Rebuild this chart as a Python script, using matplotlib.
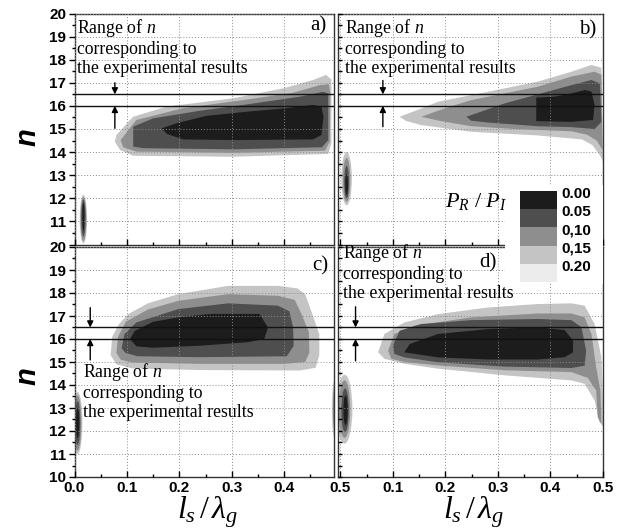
import matplotlib
matplotlib.use("Agg")
import matplotlib.pyplot as plt
from matplotlib.patches import Ellipse
from matplotlib.ticker import MultipleLocator, FixedLocator

plt.rcParams['mathtext.fontset'] = 'custom'
plt.rcParams['mathtext.rm'] = 'Liberation Serif'
plt.rcParams['mathtext.it'] = 'Liberation Serif:italic'

# ── legend levels ────────────────────────────────────────────────────────────
level_labels = ['0.00', '0.05', '0,10', '0,15', '0.20']
level_colors = ['#1c1c1c', '#4e4e4e', '#8e8e8e', '#c4c4c4', '#ececec']

# ── contour outlines (x = l_s/lambda_g, n), outer (0.15) -> inner (0.00) ────
a_light_x = [0.077, 0.080, 0.112, 0.176, 0.303, 0.398, 0.455, 0.480, 0.490, 0.490, 0.484, 0.303, 0.112, 0.087]
a_light_n = [14.45, 14.74, 15.53, 15.97, 16.33, 16.76, 17.12, 17.34, 17.15, 14.38, 13.92, 13.80, 13.84, 14.09]
a_mid_x = [0.088, 0.118, 0.207, 0.334, 0.417, 0.468, 0.485, 0.488, 0.487, 0.478, 0.303, 0.118, 0.093]
a_mid_n = [14.52, 15.39, 15.90, 16.29, 16.57, 16.90, 16.94, 16.54, 14.45, 14.06, 13.97, 14.02, 14.21]
a_dark_x = [0.112, 0.150, 0.239, 0.334, 0.430, 0.474, 0.484, 0.484, 0.472, 0.303, 0.131, 0.112]
a_dark_n = [15.10, 15.46, 15.79, 16.08, 16.40, 16.61, 16.54, 14.52, 14.21, 14.12, 14.17, 14.24]
a_black_x = [0.166, 0.195, 0.252, 0.334, 0.404, 0.455, 0.471, 0.475, 0.471, 0.455, 0.303, 0.207, 0.176]
a_black_n = [15.03, 15.25, 15.57, 15.76, 15.90, 16.04, 15.97, 15.53, 14.74, 14.55, 14.52, 14.55, 14.79]

b_light_x = [0.113, 0.150, 0.186, 0.281, 0.376, 0.440, 0.478, 0.497, 0.500, 0.493, 0.480, 0.460, 0.376, 0.249, 0.154, 0.125]
b_light_n = [15.53, 15.85, 16.18, 16.61, 17.05, 17.48, 17.77, 17.65, 13.60, 13.90, 14.30, 14.55, 14.72, 14.88, 15.17, 15.35]
b_mid_x = [0.154, 0.200, 0.249, 0.376, 0.440, 0.484, 0.497, 0.499, 0.488, 0.470, 0.440, 0.330, 0.249, 0.190]
b_mid_n = [15.53, 15.90, 16.25, 16.83, 17.27, 17.48, 17.35, 14.10, 14.50, 14.75, 14.90, 15.00, 15.12, 15.35]
b_dark_x = [0.240, 0.313, 0.376, 0.440, 0.478, 0.494, 0.497, 0.484, 0.440, 0.376, 0.281, 0.249]
b_dark_n = [15.53, 16.11, 16.50, 16.90, 17.12, 16.97, 15.31, 15.00, 15.08, 15.12, 15.28, 15.36]
b_black_x = [0.373, 0.408, 0.440, 0.466, 0.478, 0.484, 0.481, 0.440, 0.373]
b_black_n = [16.36, 16.40, 16.54, 16.69, 16.62, 16.04, 15.39, 15.31, 15.34]

c_light_x = [0.069, 0.072, 0.085, 0.103, 0.140, 0.198, 0.293, 0.388, 0.425, 0.440, 0.455, 0.467, 0.467, 0.460, 0.430, 0.240, 0.110, 0.080]
c_light_n = [15.30, 16.10, 16.65, 17.09, 17.55, 17.95, 18.31, 18.31, 18.20, 17.95, 17.00, 16.20, 15.30, 14.75, 14.63, 14.65, 14.72, 14.90]
c_mid_x = [0.080, 0.083, 0.098, 0.140, 0.198, 0.293, 0.388, 0.420, 0.433, 0.447, 0.448, 0.440, 0.400, 0.240, 0.110, 0.088]
c_mid_n = [15.40, 16.10, 16.75, 17.28, 17.66, 17.95, 17.88, 17.70, 17.09, 16.30, 15.40, 15.00, 14.92, 14.92, 14.98, 15.10]
c_dark_x = [0.090, 0.095, 0.118, 0.198, 0.293, 0.388, 0.410, 0.417, 0.418, 0.405, 0.240, 0.120, 0.097]
c_dark_n = [15.60, 16.20, 16.72, 17.30, 17.55, 17.45, 17.20, 16.50, 15.70, 15.25, 15.21, 15.25, 15.40]
c_black_x = [0.106, 0.115, 0.150, 0.198, 0.260, 0.353, 0.369, 0.362, 0.330, 0.240, 0.150, 0.118]
c_black_n = [16.00, 16.35, 16.75, 16.94, 17.09, 17.09, 16.50, 16.00, 15.86, 15.71, 15.62, 15.68]

d_light_x = [0.072, 0.084, 0.122, 0.186, 0.281, 0.376, 0.440, 0.465, 0.484, 0.497, 0.500, 0.500, 0.493, 0.484, 0.465, 0.440, 0.313, 0.186, 0.122, 0.084]
d_light_n = [15.42, 16.22, 16.72, 17.08, 17.37, 17.52, 17.55, 17.45, 16.65, 15.21, 13.33, 12.20, 12.40, 13.33, 14.05, 14.20, 14.42, 14.71, 14.92, 15.14]
d_mid_x = [0.091, 0.103, 0.141, 0.249, 0.376, 0.440, 0.465, 0.478, 0.487, 0.495, 0.497, 0.490, 0.487, 0.471, 0.440, 0.313, 0.186, 0.122, 0.097]
d_mid_n = [15.49, 16.22, 16.58, 16.94, 17.11, 17.11, 16.94, 16.22, 14.77, 13.76, 12.30, 12.60, 13.76, 14.31, 14.56, 14.64, 14.85, 15.00, 15.14]
d_dark_x = [0.100, 0.113, 0.154, 0.249, 0.376, 0.440, 0.459, 0.468, 0.465, 0.440, 0.313, 0.186, 0.122, 0.103]
d_dark_n = [15.71, 16.36, 16.65, 16.82, 16.87, 16.82, 16.51, 15.49, 14.84, 14.74, 14.80, 14.99, 15.20, 15.35]
d_black_x = [0.122, 0.132, 0.186, 0.281, 0.376, 0.427, 0.443, 0.443, 0.427, 0.376, 0.281, 0.186]
d_black_n = [15.42, 15.78, 16.22, 16.43, 16.51, 16.39, 15.93, 15.42, 15.21, 15.11, 15.11, 15.20]

# ── small streaks near the axis: centre x, centre n, width, height per level ─
a_blob_x = [0.017, 0.017, 0.017, 0.017]
a_blob_n = [11.10, 11.10, 11.15, 11.20]
a_blob_w = [0.014, 0.011, 0.008, 0.004]
a_blob_h = [2.10, 1.90, 1.60, 1.20]

b_blob_x = [0.012, 0.012, 0.012, 0.012]
b_blob_n = [12.85, 12.80, 12.70, 12.60]
b_blob_w = [0.020, 0.014, 0.009, 0.005]
b_blob_h = [2.30, 1.90, 1.40, 0.90]

c_blob_x = [0.006, 0.006, 0.006, 0.006, 0.497, 0.497, 0.497]
c_blob_n = [12.35, 12.35, 12.35, 12.35, 12.95, 12.95, 12.90]
c_blob_w = [0.018, 0.014, 0.010, 0.006, 0.012, 0.008, 0.004]
c_blob_h = [2.70, 2.40, 1.90, 1.30, 2.60, 2.00, 1.20]
c_blob_lvl = [0, 1, 2, 3, 0, 1, 2]

d_blob_x = [0.008, 0.008, 0.009, 0.010]
d_blob_n = [12.95, 12.95, 12.90, 12.90]
d_blob_w = [0.030, 0.022, 0.014, 0.008]
d_blob_h = [3.00, 2.50, 1.90, 1.30]

# ── experimental range of n and arrows ───────────────────────────────────────
n_range = [16.0, 16.5]
arrow_x = [0.077, 0.081, 0.030, 0.029]
arrow_top = [17.0, 17.1, 17.36, 17.4]
arrow_bottom = [15.03, 15.1, 15.09, 15.05]

note_text = 'Range of $n$\ncorresponding to\nthe experimental results'
note_x = [0.005, 0.009, 0.016, 0.005]
note_n = [17.42, 17.42, 12.61, 17.78]   # baseline of the last line
panel_tags = ['a)', 'b)', 'c)', 'd)']
tag_x = [0.480, 0.488, 0.484, 0.298]
tag_n = [19.28, 19.07, 19.00, 19.13]

W, H = 638, 531
fig = plt.figure(figsize=(W / 100, H / 100), dpi=100)


def px_rect(x0, y0, x1, y1):
    return [x0 / W, 1 - y1 / H, (x1 - x0) / W, (y1 - y0) / H]


ax_a = fig.add_axes(px_rect(74.5, 13.5, 334, 244.5))
ax_b = fig.add_axes(px_rect(338, 13.5, 603, 244.5))
ax_c = fig.add_axes(px_rect(74.5, 247, 334, 477))
ax_d = fig.add_axes(px_rect(338, 247, 603, 477))
axes = [ax_a, ax_b, ax_c, ax_d]

shapes = [
    [(a_light_x, a_light_n), (a_mid_x, a_mid_n), (a_dark_x, a_dark_n), (a_black_x, a_black_n)],
    [(b_light_x, b_light_n), (b_mid_x, b_mid_n), (b_dark_x, b_dark_n), (b_black_x, b_black_n)],
    [(c_light_x, c_light_n), (c_mid_x, c_mid_n), (c_dark_x, c_dark_n), (c_black_x, c_black_n)],
    [(d_light_x, d_light_n), (d_mid_x, d_mid_n), (d_dark_x, d_dark_n), (d_black_x, d_black_n)],
]
blobs = [
    (a_blob_x, a_blob_n, a_blob_w, a_blob_h, [0, 1, 2, 3]),
    (b_blob_x, b_blob_n, b_blob_w, b_blob_h, [0, 1, 2, 3]),
    (c_blob_x, c_blob_n, c_blob_w, c_blob_h, c_blob_lvl),
    (d_blob_x, d_blob_n, d_blob_w, d_blob_h, [0, 1, 2, 3]),
]
fill_colors = [level_colors[3], level_colors[2], level_colors[1], level_colors[0]]

tick_font = dict(family='Liberation Sans', weight='bold', size=11)
xlims = [(0, 0.495), (-0.0044, 0.5), (0, 0.495), (-0.0044, 0.5)]

for i, ax in enumerate(axes):
    left_col = i in (0, 2)

    for (xs, ns), col in zip(shapes[i], fill_colors):
        ax.fill(xs, ns, color=col, lw=0, zorder=1)

    bx, bn, bw, bh, blvl = blobs[i]
    for k in range(len(bx)):
        ax.add_patch(Ellipse((bx[k], bn[k]), bw[k], bh[k], color=fill_colors[blvl[k]], lw=0, zorder=1))

    for yv in n_range:
        ax.axhline(yv, color='#111111', lw=1.0, zorder=3)

    ax.annotate('', xy=(arrow_x[i], n_range[1]), xytext=(arrow_x[i], arrow_top[i]),
                arrowprops=dict(arrowstyle='-|>', color='k', lw=1.0, mutation_scale=9,
                                shrinkA=0, shrinkB=0), zorder=4)
    ax.annotate('', xy=(arrow_x[i], n_range[0]), xytext=(arrow_x[i], arrow_bottom[i]),
                arrowprops=dict(arrowstyle='-|>', color='k', lw=1.0, mutation_scale=9,
                                shrinkA=0, shrinkB=0), zorder=4)

    ax.text(note_x[i], note_n[i], note_text, family='Liberation Serif', size=12.8,
            ha='left', va='baseline', linespacing=1.15, zorder=5)
    ax.text(tag_x[i], tag_n[i], panel_tags[i], family='Liberation Serif', size=15,
            ha='right', va='baseline', zorder=5)

    # grid and ticks
    ax.xaxis.set_major_locator(FixedLocator([0.0, 0.1, 0.2, 0.3, 0.4, 0.5]))
    ax.xaxis.set_minor_locator(FixedLocator([0.05, 0.15, 0.25, 0.35, 0.45]))
    ax.yaxis.set_major_locator(MultipleLocator(1))
    ax.yaxis.set_minor_locator(MultipleLocator(0.5))
    ax.grid(True, which='major', color='#8a8a8a', lw=0.7, linestyle=(0, (1, 2)), zorder=2)
    ax.set_axisbelow(False)
    ax.tick_params(axis='x', which='major', direction='in', length=4, width=1, pad=3)
    ax.tick_params(axis='x', which='minor', direction='in', length=2.5, width=1)
    if left_col:
        ax.tick_params(axis='y', which='major', direction='out', length=4.5, width=1, pad=1.5)
        ax.tick_params(axis='y', which='minor', direction='out', length=2.5, width=1)
    else:
        ax.tick_params(axis='y', which='both', direction='in', length=3, width=1, labelleft=False)
    for sp in ax.spines.values():
        sp.set_color('#333333')
        sp.set_linewidth(1.0)

# tick labels as in the original figure
ax_a.set_yticks(range(10, 21))
ax_a.set_yticklabels([''] + [str(v) for v in range(11, 21)], fontdict=tick_font)
ax_c.set_yticks(range(10, 21))
ax_c.set_yticklabels([str(v) for v in range(10, 21)], fontdict=tick_font)
ax_a.tick_params(axis='x', labelbottom=False)
ax_b.tick_params(axis='x', labelbottom=False)
ax_c.set_xticks([0.0, 0.1, 0.2, 0.3, 0.4])
ax_c.set_xticklabels(['0.0', '0.1', '0.2', '0.3', '0.4'], fontdict=tick_font)
ax_d.set_xticks([0.0, 0.1, 0.2, 0.3, 0.4, 0.5])
ax_d.set_xticklabels(['0.5', '0.1', '0.2', '0.3', '0.4', '0.5'], fontdict=tick_font)

for ax, lim in zip(axes, xlims):
    ax.set_xlim(lim)
    ax.set_ylim(10, 20)

# axis titles
for yc in (137, 376):
    fig.text(27 / W, 1 - yc / H, 'n', family='Liberation Sans', weight='bold', style='italic',
             size=21, rotation=90, ha='center', va='center')
for xc in (208, 474):
    fig.text(xc / W, 1 - 518 / H, r'$l_s\,/\,\lambda_g$', size=23, ha='center', va='baseline')

fig.text(476 / W, 1 - 207 / H, r'$P_R\ /\ P_I$', size=16, ha='center', va='baseline')

# legend swatches
ax_leg = fig.add_axes(px_rect(505, 185, 603, 284))
ax_leg.set_xlim(0, 1)
ax_leg.set_ylim(5.11, -0.33)
ax_leg.set_facecolor('white')
for k, (lab, col) in enumerate(zip(level_labels, level_colors)):
    ax_leg.barh(k + 0.5, 0.378, left=0.153, height=1.0, color=col, lw=0)
    ax_leg.text(0.58, k + 0.17, lab, ha='left', va='center', **tick_font)
for sp in ax_leg.spines.values():
    sp.set_visible(False)
ax_leg.set_xticks([])
ax_leg.set_yticks([])

fig.savefig('out.png', dpi=100)
